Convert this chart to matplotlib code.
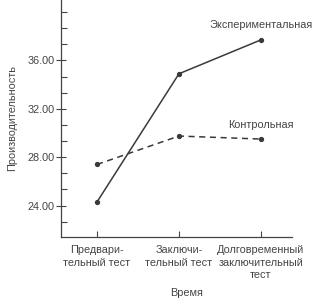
import matplotlib
matplotlib.use("Agg")
import matplotlib.pyplot as plt
from matplotlib.ticker import MultipleLocator, FormatStrFormatter

categories = ["Предвари-\nтельный тест", "Заключи-\nтельный тест", "Долговременный\nзаключительный\nтест"]
experimental = [24.3, 34.9, 37.7]
control = [27.4, 29.75, 29.5]
series_labels = ["Экспериментальная", "Контрольная"]

plt.rcParams['font.family'] = ['Liberation Sans', 'DejaVu Sans']
col = '#3a3a3a'
fs = 7.8
fig = plt.figure(figsize=(3.17, 2.99), dpi=100)
ax = fig.add_axes([61/317, 1-237/299, (292-61)/317, 237/299])
x = list(range(len(categories)))
ax.plot(x, experimental, '-', color=col, lw=1.1, marker='o', ms=2.8)
ax.plot(x, control, '--', color=col, lw=1.1, marker='o', ms=2.8, dashes=(4, 3))
ax.set_xlim(-0.44, 2.38)
ax.set_ylim(21.4, 41.0)
ax.yaxis.set_minor_locator(MultipleLocator(4/3))
ax.yaxis.set_major_formatter(FormatStrFormatter('%.2f'))
ax.set_yticks([24, 28, 32, 36])
ax.set_xticks(x)
ax.set_xticklabels(categories, fontsize=fs, color='#444444', linespacing=1.3)
ax.tick_params(axis='y', which='major', direction='inout', length=7, width=0.8, labelsize=fs, colors='#444444', pad=1)
ax.tick_params(axis='y', which='minor', direction='in', length=4, width=0.8, colors='#444444')
ax.tick_params(axis='x', which='major', direction='in', length=4, width=0.8, colors='#444444', pad=6)
for s in ['top', 'right']:
    ax.spines[s].set_visible(False)
for s in ['left', 'bottom']:
    ax.spines[s].set_color('#444444')
    ax.spines[s].set_linewidth(0.9)
ax.text(2, experimental[2] + 0.8, series_labels[0], ha='center', va='bottom', fontsize=fs, color='#444444')
ax.text(2, control[2] + 0.75, series_labels[1], ha='center', va='bottom', fontsize=fs, color='#444444')
fig.text(12/317, 1-118/299, "Производительность", rotation=90, ha='center', va='center', fontsize=fs, color='#444444')
fig.text(187/317, 1-293/299, "Время", ha='center', va='center', fontsize=fs, color='#444444')
fig.savefig("out.png", dpi=100)
